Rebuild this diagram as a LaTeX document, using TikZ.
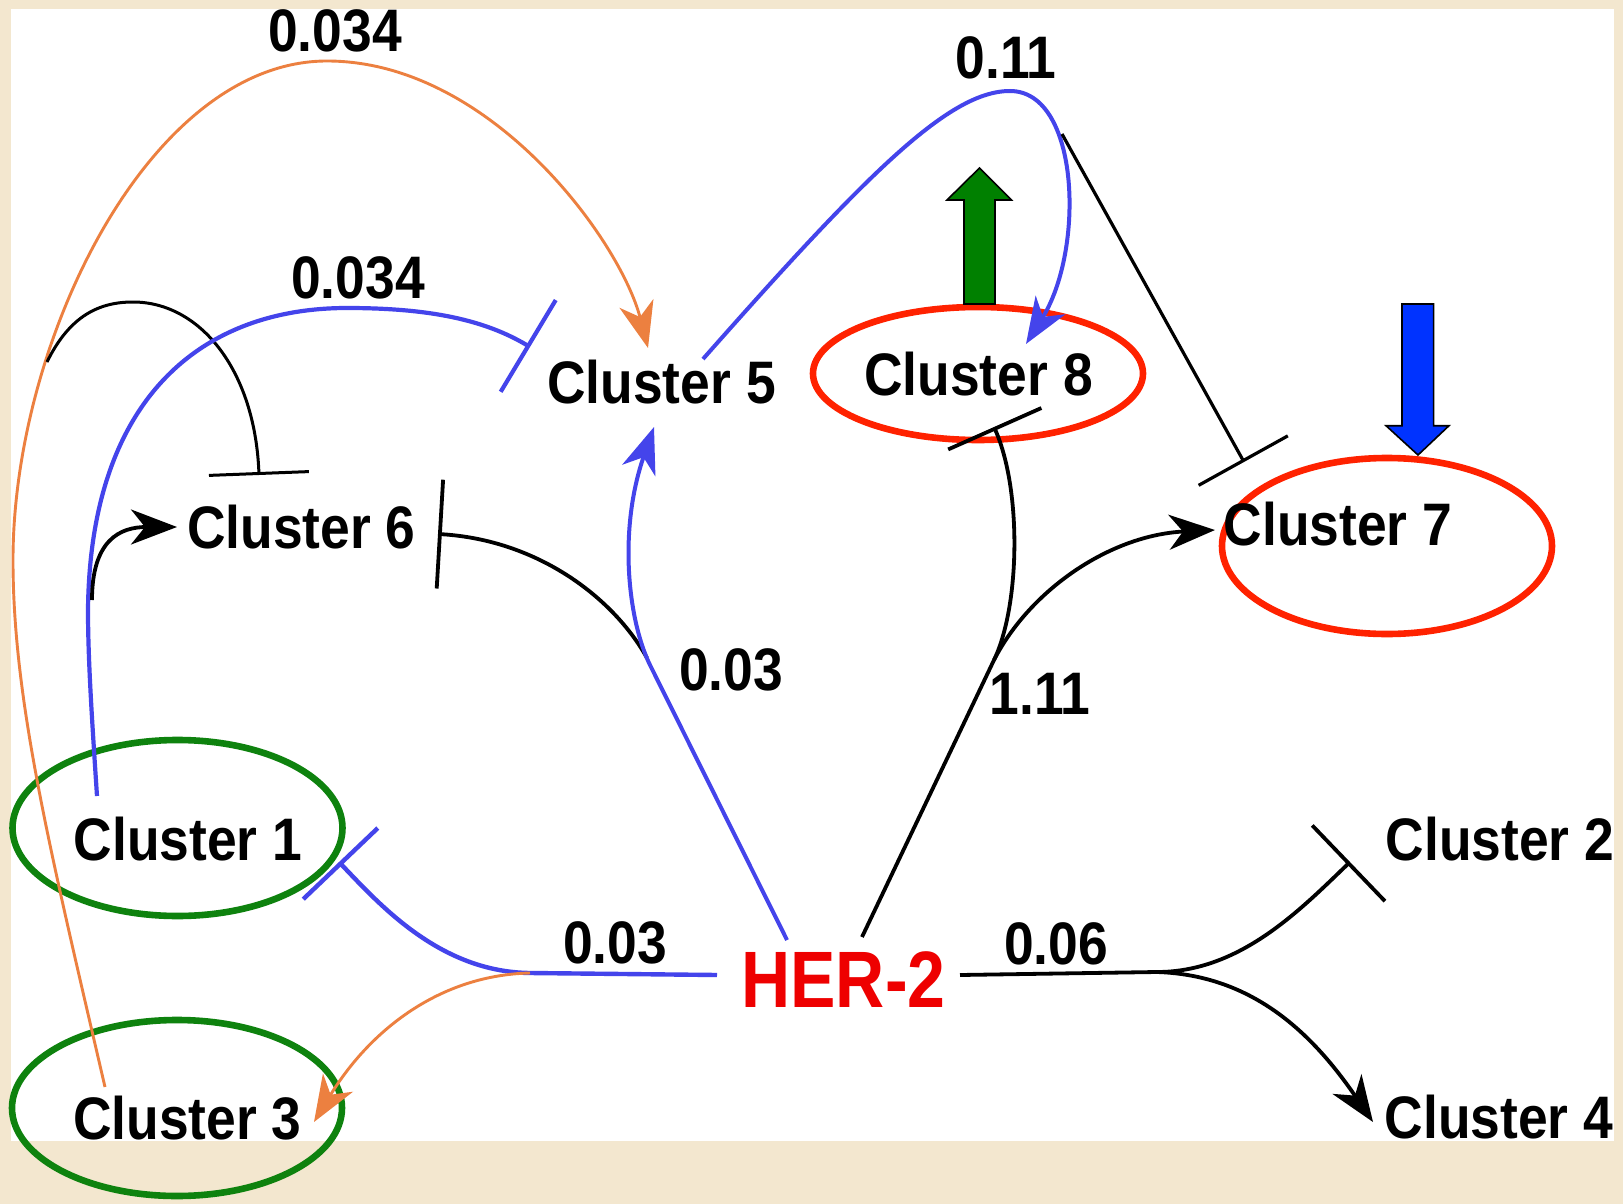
\documentclass[tikz,border=0pt]{standalone}
\usepackage{fontspec}
\newfontfamily\labfont[FakeStretch=0.89]{Liberation Sans}
\newfontfamily\herfont[FakeStretch=0.85]{Liberation Sans}
\usetikzlibrary{arrows.meta}
\definecolor{bgbeige}{RGB}{243,231,207}
\definecolor{herred}{RGB}{238,0,0}
\definecolor{ellred}{RGB}{255,34,0}
\definecolor{ellgreen}{RGB}{14,130,14}
\definecolor{linblue}{RGB}{68,68,235}
\definecolor{linorange}{RGB}{236,128,64}
\definecolor{arrgreen}{RGB}{0,128,0}
\definecolor{arrblue}{RGB}{0,51,255}
\begin{document}
\begin{tikzpicture}[x=0.5pt,y=-0.5pt,
  lab/.style={font=\labfont\bfseries\fontsize{30pt}{30pt}\selectfont, inner sep=0pt, anchor=base},
  herlab/.style={font=\herfont\bfseries\fontsize{40pt}{40pt}\selectfont, text=herred, inner sep=0pt, anchor=base},
  arr/.style={-{Stealth[length=23pt,width=17.5pt,inset=7pt]}},
  inh/.style={-{Bar[width=#1]}},
  blk/.style={draw=black, line width=1.9pt},
  blu/.style={draw=linblue, line width=2pt},
  org/.style={draw=linorange, line width=1.45pt},
  ellr/.style={draw=ellred, line width=3.3pt},
  ellg/.style={draw=ellgreen, line width=3.3pt},
  blockarr/.style={draw=black, line width=0.8pt, line join=miter}]
\useasboundingbox (0,0) rectangle (1623,1204);
\fill[bgbeige] (0,0) rectangle (1623,1204);
\fill[white] (11,9) rectangle (1614,1141);

% ellipses
\draw[ellr] (978,373.5) ellipse [x radius=82.5pt, y radius=33.25pt];
\draw[ellr] (1387,546) ellipse [x radius=82.5pt, y radius=44pt];
\draw[ellg] (177.5,828) ellipse [x radius=82.5pt, y radius=44pt];
\draw[ellg] (177,1108) ellipse [x radius=82.5pt, y radius=44pt];

% nodes
\node[lab] (c5) at (661.5,403) {Cluster 5};
\node[lab] (c8) at (978.5,395) {Cluster 8};
\node[lab] (c7) at (1338,545) {Cluster 7};
\node[lab] (c6) at (301.5,548) {Cluster 6};
\node[lab] (c1) at (188,860) {Cluster 1};
\node[lab] (c3) at (187.5,1139) {Cluster 3};
\node[lab] (c2) at (1500,860) {Cluster 2};
\node[lab] (c4) at (1499,1138) {Cluster 4};
\node[herlab] (her) at (843.5,1007) {HER-2};

% edge labels
\node[lab] (l1) at (335,51.5) {0.034};
\node[lab] (l2) at (358,298) {0.034};
\node[lab] (l3) at (1006,79) {0.11};
\node[lab] (l4) at (731,690) {0.03};
\node[lab] (l5) at (1040,714) {1.11};
\node[lab] (l6) at (615,963) {0.03};
\node[lab] (l7) at (1056,964) {0.06};

% anchor coordinates
\coordinate (o0) at (105,1087);
\coordinate (o1) at (13,560);
\coordinate (o2) at (327,61);
\coordinate (o3) at (648,348);
\coordinate (b0) at (97,796);
\coordinate (b1) at (88,610);
\coordinate (b2) at (347,308);
\coordinate (b3) at (530,347);
\coordinate (k0) at (47,362);
\coordinate (k1) at (133,302);
\coordinate (k2) at (259,475);
\coordinate (d0) at (92,600);
\coordinate (d1) at (177,527);
\coordinate (e0) at (647,658);
\coordinate (e1) at (438,534);
\coordinate (f0) at (787,940);
\coordinate (f1) at (650,665);
\coordinate (f2) at (654,427);
\coordinate (g0) at (717,975);
\coordinate (g1) at (530,973);
\coordinate (g2) at (339,862);
\coordinate (h1) at (314,1122);
\coordinate (i0) at (703,359);
\coordinate (i1) at (1010,91);
\coordinate (i2) at (1026,344);
\coordinate (j0) at (1062,134);
\coordinate (j1) at (1244,462);
\coordinate (m0) at (862,937);
\coordinate (m1) at (994,660);
\coordinate (m2) at (994,427);
\coordinate (m3) at (1215,530);
\coordinate (n0) at (960,975);
\coordinate (n1) at (1157,972);
\coordinate (n2) at (1350,862);
\coordinate (n3) at (1373,1122);

% orange: Cluster 3 -> Cluster 5
\draw[org, arr] (o0) .. controls (50,850) and (13,700) .. (o1)
  .. controls (13,340) and (150,61) .. (o2)
  .. controls (490,61) and (620,240) .. (o3);
% black inhibit: Cluster 3 -> Cluster 6
\draw[blk, line width=1.5pt, inh=50pt] (k0) .. controls (70,315) and (100,302) .. (k1)
  .. controls (200,302) and (255,370) .. (k2);
% blue inhibit: Cluster 1 -> Cluster 5
\draw[blu, line width=2.1pt, inh=53.5pt] (b0) .. controls (92,720) and (88,660) .. (b1)
  .. controls (90,400) and (200,308) .. (b2)
  .. controls (430,308) and (485,320) .. (b3);
% black arrow: Cluster 1 -> Cluster 6
\draw[blk, arr] (d0) .. controls (92,540) and (120,527) .. (d1);
% black inhibit: HER-2 -> Cluster 6
\draw[blk, inh=54.5pt] (e0) .. controls (615,600) and (540,540) .. (e1);
% blue arrow: HER-2 -> Cluster 5
\draw[blu, arr] (f0) -- (f1) .. controls (628,620) and (618,530) .. (f2);
% blue inhibit: HER-2 -> Cluster 1
\draw[blu, line width=2.2pt, inh=51.5pt] (g0) -- (g1) .. controls (440,972) and (380,905) .. (g2);
% orange arrow: HER-2 -> Cluster 3
\draw[org, arr] (g1) .. controls (440,975) and (370,1030) .. (h1);
% blue arrow: Cluster 5 -> Cluster 8
\draw[blu, arr] (i0) .. controls (870,170) and (950,91) .. (i1)
  .. controls (1080,91) and (1085,250) .. (i2);
% black inhibit: -> Cluster 7
\draw[blk, line width=1.6pt, inh=51pt] (j0) -- (j1);
% black inhibit: HER-2 -> Cluster 8
\draw[blk, inh=51pt] (m0) -- (m1) .. controls (1020,606) and (1022,490) .. (m2);
% black arrow: HER-2 -> Cluster 7
\draw[blk, arr] (m1) .. controls (1030,590) and (1110,535) .. (m3);
% HER-2 -> Cluster 2 / Cluster 4
\draw[blk] (n0) -- (n1);
\draw[blk, inh=52.5pt] (n1) .. controls (1240,972) and (1300,910) .. (n2);
\draw[blk, arr] (n1) .. controls (1250,975) and (1310,1030) .. (n3);

% block arrows
\draw[blockarr, fill=arrgreen] (964,304) -- (964,200) -- (947,200) -- (979.5,168) -- (1011.5,200) -- (995,200) -- (995,304) -- cycle;
\draw[blockarr, fill=arrblue] (1402,304) -- (1433.6,304) -- (1433.6,425.7) -- (1449,425.7) -- (1418,455) -- (1386,425.7) -- (1402,425.7) -- cycle;
\end{tikzpicture}
\end{document}
